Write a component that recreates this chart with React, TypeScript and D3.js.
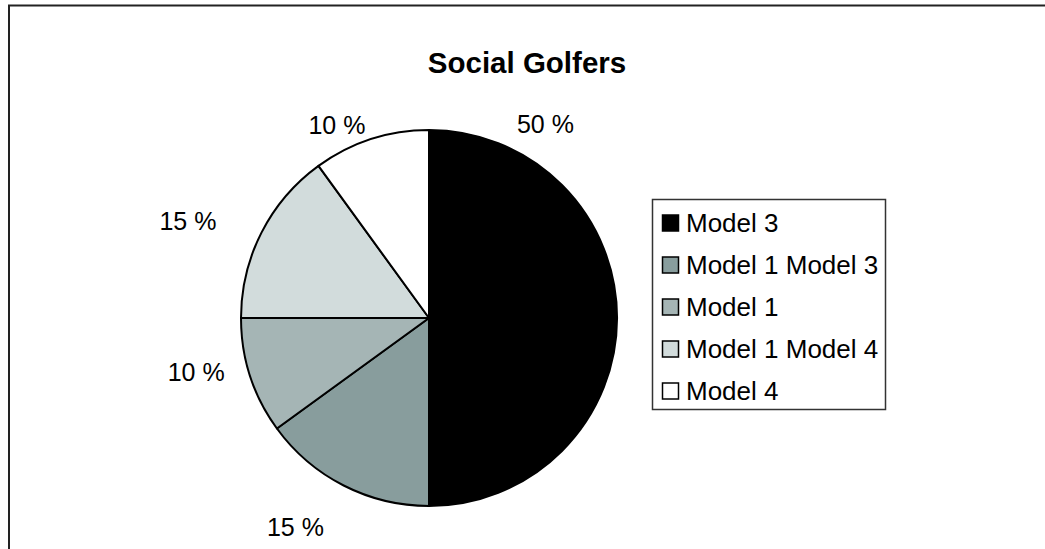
import React from "react";
import * as d3 from "d3";

const categories = ["Model 3", "Model 1 Model 3", "Model 1", "Model 1 Model 4", "Model 4"];
const values = [50, 15, 10, 15, 10];
const colors = ["#000000", "#889D9D", "#A5B5B5", "#D2DCDC", "#FFFFFF"];
const title = "Social Golfers";

// label placement (degrees clockwise from 12 o'clock, distance from centre)
const labelLayout = [
  { angle: 31, dist: 226 },
  { angle: 212.6, dist: 248 },
  { angle: 257, dist: 239 },
  { angle: 292, dist: 260 },
  { angle: 334.5, dist: 214 },
];

export default function App() {
  const W = 1045, H = 549;
  const cx = 429, cy = 318, R = 188;
  const total = d3.sum(values);
  const pie = d3.pie<number>().sort(null).value((d) => d)(values);
  const arc = d3.arc<d3.PieArcDatum<number>>().innerRadius(0).outerRadius(R);
  const font = "Arial, 'Liberation Sans', sans-serif";
  const legendX = 652.5, legendY = 199.5, legendW = 233, legendH = 210;
  const rowY = d3.scalePoint<string>().domain(categories).range([223, 391]);

  return (
    <div style={{ position: "absolute", left: 0, top: 0 }}>
      <svg width={W} height={H} style={{ display: "block" }}>
        <rect x={0} y={0} width={W} height={H} fill="#fff" />
        <rect x={9} y={5.5} width={W + 20} height={H + 20} fill="#fff" stroke="#222" strokeWidth={2} />
        <text x={527} y={62} textAnchor="middle" dominantBaseline="central" fontFamily={font} fontWeight="bold" fontSize={29.5}>
          {title}
        </text>
        <g transform={`translate(${cx},${cy})`}>
          {pie.map((p, i) => (
            <path key={i} d={arc(p) || ""} fill={colors[i]} stroke="#000" strokeWidth={2} strokeLinejoin="round" />
          ))}
        </g>
        {values.map((v, i) => {
          const a = (labelLayout[i].angle * Math.PI) / 180;
          const x = cx + labelLayout[i].dist * Math.sin(a);
          const y = cy - labelLayout[i].dist * Math.cos(a);
          return (
            <text key={i} x={x} y={y} textAnchor="middle" dominantBaseline="central" fontFamily={font} fontSize={25} fill="#000">
              {`${Math.round((v / total) * 100)} %`}
            </text>
          );
        })}
        <rect x={legendX} y={legendY} width={legendW} height={legendH} fill="#fff" stroke="#333" strokeWidth={1.5} />
        {categories.map((c, i) => {
          const y = rowY(c) as number;
          return (
            <g key={c}>
              <rect x={662.5} y={y - 8} width={16} height={16} fill={colors[i]} stroke="#000" strokeWidth={1.5} />
              <text x={686} y={y} dominantBaseline="central" fontFamily={font} fontSize={26} fill="#000">
                {c}
              </text>
            </g>
          );
        })}
      </svg>
    </div>
  );
}
